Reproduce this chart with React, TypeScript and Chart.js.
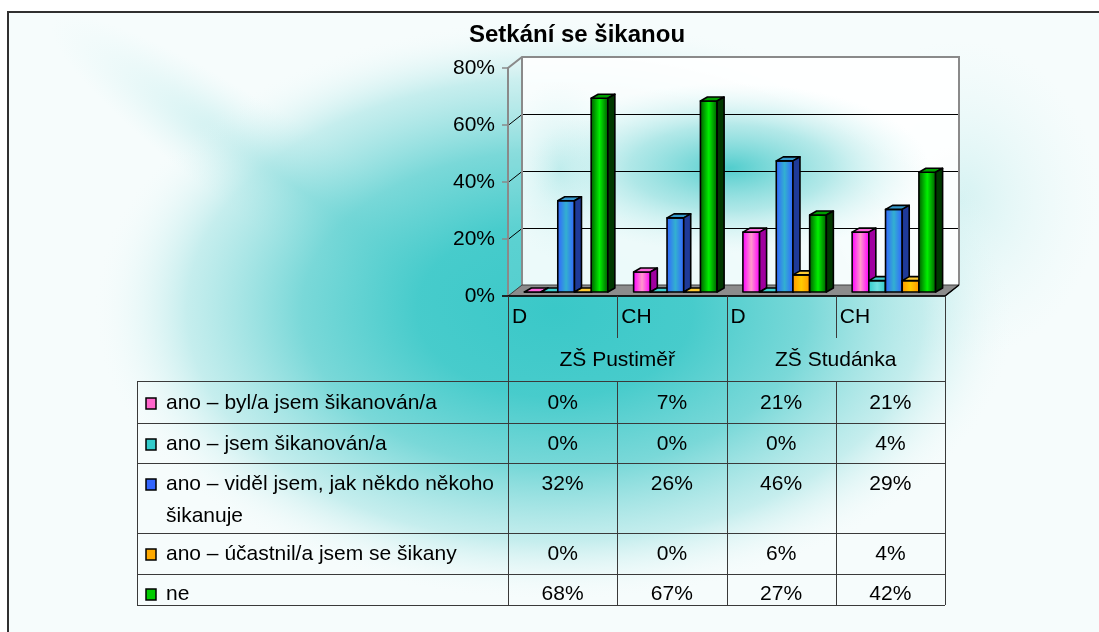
import React, { useEffect, useRef } from "react";
import { Chart, registerables } from "chart.js";

Chart.register(...registerables);

// ---------- data ----------
const chartTitle = "Setkání se šikanou";
const schools = ["ZŠ Pustiměř", "ZŠ Studánka"];
const genders = ["D", "CH", "D", "CH"];
const categories = ["ZŠ Pustiměř D", "ZŠ Pustiměř CH", "ZŠ Studánka D", "ZŠ Studánka CH"];
const seriesNames = [
  "ano – byl/a jsem šikanován/a",
  "ano – jsem šikanován/a",
  "ano – viděl jsem, jak někdo někoho šikanuje",
  "ano – účastnil/a jsem se šikany",
  "ne",
];
const bulliedBefore = [0, 7, 21, 21];
const bulliedNow = [0, 0, 0, 4];
const witnessed = [32, 26, 46, 29];
const participated = [0, 0, 6, 4];
const never = [68, 67, 27, 42];
const seriesValues = [bulliedBefore, bulliedNow, witnessed, participated, never];
const yTicks = [0, 20, 40, 60, 80];

// ---------- styles ----------
const FONT = '"Liberation Sans", Arial, sans-serif';
const seriesStyles = [
  { edge: "#FF00FF", center: "#FF99CC", top: "#FF66DD", side: "#A000A0", key: "#FF66CC" },
  { edge: "#33CCCC", center: "#70E0E0", top: "#40D0D0", side: "#1F8080", key: "#33CCCC" },
  { edge: "#3366FF", center: "#33B0D0", top: "#3399CC", side: "#1F3A99", key: "#3366FF" },
  { edge: "#FF9900", center: "#FFCC00", top: "#FFCC33", side: "#A06000", key: "#FFAA00" },
  { edge: "#006000", center: "#00F000", top: "#00A000", side: "#003800", key: "#00CC00" },
];
const WALL_DX = 14;
const WALL_DY = 11;
const BAR_SHIFT_X = 3.5;
const BAR_SHIFT_Y = 4;
const BAR_DX = 7;
const BAR_DY = 4;
const TABLE_LEFT = 137;
const HEADER_HEIGHTS = [42, 43];
const ROW_HEIGHTS = [42, 40, 70, 41, 31];
const LINE_GAP = 32;

function ellipseGlow(ctx: CanvasRenderingContext2D, cx: number, cy: number, rx: number, ry: number, stops: [number, string][], rot = 0) {
  ctx.save();
  ctx.translate(cx, cy);
  ctx.rotate(rot);
  ctx.scale(1, ry / rx);
  const g = ctx.createRadialGradient(0, 0, 0, 0, 0, rx);
  stops.forEach(([o, c]) => g.addColorStop(o, c));
  ctx.fillStyle = g;
  ctx.fillRect(-rx, -rx, 2 * rx, 2 * rx);
  ctx.restore();
}

function wrapText(ctx: CanvasRenderingContext2D, text: string, maxW: number) {
  const words = text.split(" ");
  const lines: string[] = [];
  let cur = "";
  words.forEach((w) => {
    const t = cur ? cur + " " + w : w;
    if (ctx.measureText(t).width > maxW && cur) {
      lines.push(cur);
      cur = w;
    } else cur = t;
  });
  if (cur) lines.push(cur);
  return lines;
}

const scenePlugin = {
  id: "scene3d",
  beforeDraw(chart: any) {
    const ctx: CanvasRenderingContext2D = chart.ctx;
    const W = chart.width;
    const H = chart.height;
    const a = chart.chartArea;
    const y = chart.scales.y;
    const L = a.left, R = a.right, T = a.top, B = a.bottom;

    // page background
    ctx.save();
    ctx.fillStyle = "#ffffff";
    ctx.fillRect(0, 0, W, H);
    ctx.beginPath();
    ctx.rect(8, 12, W - 8, H - 12);
    ctx.clip();
    ctx.fillStyle = "#f6fcfc";
    ctx.fillRect(8, 12, W, H);
    ellipseGlow(ctx, 300, 190, 300, 55, [
      [0, "rgba(110,212,212,0.5)"],
      [1, "rgba(200,240,240,0)"],
    ], 0.6);
    ellipseGlow(ctx, 960, 200, 140, 160, [
      [0, "rgba(180,232,232,0.5)"],
      [1, "rgba(220,245,245,0)"],
    ]);
    ellipseGlow(ctx, 555, 310, 460, 290, [
      [0, "rgba(58,200,200,1)"],
      [0.3, "rgba(62,201,201,0.95)"],
      [0.55, "rgba(100,210,210,0.85)"],
      [0.8, "rgba(165,228,228,0.6)"],
      [1, "rgba(240,250,250,0)"],
    ]);
    ctx.restore();

    // frame
    ctx.save();
    ctx.strokeStyle = "#303030";
    ctx.lineWidth = 2;
    ctx.beginPath();
    ctx.moveTo(8, H);
    ctx.lineTo(8, 12);
    ctx.lineTo(W, 12);
    ctx.stroke();
    ctx.restore();

    // title
    ctx.save();
    ctx.fillStyle = "#000";
    ctx.font = `bold 24px ${FONT}`;
    ctx.textAlign = "center";
    ctx.textBaseline = "alphabetic";
    ctx.fillText(chartTitle, 577, 42);
    ctx.restore();

    // back wall
    ctx.save();
    ctx.fillStyle = "rgba(255,255,255,0.9)";
    ctx.fillRect(L + WALL_DX, T - WALL_DY, R - L, B - T);
    ctx.beginPath();
    ctx.rect(L + WALL_DX, T - WALL_DY, R - L, B - T);
    ctx.clip();
    ellipseGlow(ctx, 730, 168, 200, 85, [
      [0, "rgba(64,200,200,0.9)"],
      [0.5, "rgba(110,212,212,0.5)"],
      [1, "rgba(200,240,240,0)"],
    ]);
    ellipseGlow(ctx, 560, 170, 60, 90, [
      [0, "rgba(120,215,215,0.35)"],
      [1, "rgba(200,240,240,0)"],
    ]);
    ctx.restore();

    // side wall
    ctx.save();
    ctx.beginPath();
    ctx.moveTo(L, T);
    ctx.lineTo(L + WALL_DX, T - WALL_DY);
    ctx.lineTo(L + WALL_DX, B - WALL_DY);
    ctx.lineTo(L, B);
    ctx.closePath();
    ctx.fillStyle = "rgba(255,255,255,0.12)";
    ctx.fill();

    // grid lines
    ctx.strokeStyle = "#000";
    ctx.lineWidth = 1;
    yTicks.forEach((v) => {
      if (v <= y.min || v >= y.max) return;
      const yy = Math.round(y.getPixelForValue(v)) + 0.5;
      ctx.beginPath();
      ctx.moveTo(L, yy);
      ctx.lineTo(L + WALL_DX, yy - WALL_DY);
      ctx.lineTo(R + WALL_DX, yy - WALL_DY);
      ctx.stroke();
    });

    // wall outlines
    ctx.strokeStyle = "#8a8a8a";
    ctx.lineWidth = 2;
    ctx.beginPath();
    ctx.moveTo(L, B);
    ctx.lineTo(L, T);
    ctx.lineTo(L + WALL_DX, T - WALL_DY);
    ctx.lineTo(R + WALL_DX, T - WALL_DY);
    ctx.lineTo(R + WALL_DX, B - WALL_DY);
    ctx.stroke();
    ctx.beginPath();
    ctx.moveTo(L + WALL_DX, T - WALL_DY);
    ctx.lineTo(L + WALL_DX, B - WALL_DY);
    ctx.stroke();

    // tick marks
    ctx.lineWidth = 1.5;
    yTicks.forEach((v) => {
      const yy = y.getPixelForValue(v);
      ctx.beginPath();
      ctx.moveTo(L - 6, yy);
      ctx.lineTo(L, yy);
      ctx.stroke();
    });

    // floor
    ctx.beginPath();
    ctx.moveTo(L, B);
    ctx.lineTo(L + WALL_DX, B - WALL_DY);
    ctx.lineTo(R + WALL_DX, B - WALL_DY);
    ctx.lineTo(R, B);
    ctx.closePath();
    ctx.fillStyle = "#8c8c8c";
    ctx.fill();
    ctx.strokeStyle = "#404040";
    ctx.lineWidth = 1;
    ctx.stroke();
    ctx.restore();
  },
  afterDatasetsDraw(chart: any) {
    const ctx: CanvasRenderingContext2D = chart.ctx;
    ctx.save();
    ctx.lineWidth = 1.6;
    ctx.strokeStyle = "#000";
    ctx.lineJoin = "round";
    chart.data.datasets.forEach((_ds: any, di: number) => {
      const meta = chart.getDatasetMeta(di);
      const st = seriesStyles[di];
      meta.data.forEach((el: any) => {
        const p = el.getProps(["x", "y", "base", "width"], true);
        const x0 = p.x - p.width / 2 + BAR_SHIFT_X;
        const x1 = p.x + p.width / 2 + BAR_SHIFT_X;
        const yt = p.y - BAR_SHIFT_Y;
        const yb = p.base - BAR_SHIFT_Y;
        // front
        const g = ctx.createLinearGradient(x0, 0, x1, 0);
        g.addColorStop(0, st.edge);
        g.addColorStop(0.5, st.center);
        g.addColorStop(1, st.edge);
        ctx.fillStyle = g;
        ctx.beginPath();
        ctx.rect(x0, yt, x1 - x0, yb - yt);
        ctx.fill();
        ctx.stroke();
        // top
        ctx.beginPath();
        ctx.moveTo(x0, yt);
        ctx.lineTo(x0 + BAR_DX, yt - BAR_DY);
        ctx.lineTo(x1 + BAR_DX, yt - BAR_DY);
        ctx.lineTo(x1, yt);
        ctx.closePath();
        ctx.fillStyle = st.top;
        ctx.fill();
        ctx.stroke();
        // side
        ctx.beginPath();
        ctx.moveTo(x1, yt);
        ctx.lineTo(x1 + BAR_DX, yt - BAR_DY);
        ctx.lineTo(x1 + BAR_DX, yb - BAR_DY);
        ctx.lineTo(x1, yb);
        ctx.closePath();
        ctx.fillStyle = st.side;
        ctx.fill();
        ctx.stroke();
      });
    });
    ctx.restore();
  },
  afterDraw(chart: any) {
    const ctx: CanvasRenderingContext2D = chart.ctx;
    const a = chart.chartArea;
    const x = chart.scales.x;
    const L = a.left, R = a.right, B = a.bottom;
    const n = categories.length;
    const cw = (R - L) / n;
    const colLeft = (i: number) => x.getPixelForValue(i) - cw / 2;
    const headTop = B;
    const head2 = B + HEADER_HEIGHTS[0];
    const rowsTop = head2 + HEADER_HEIGHTS[1];
    const rowTops: number[] = [];
    let acc = rowsTop;
    ROW_HEIGHTS.forEach((h) => {
      rowTops.push(acc);
      acc += h;
    });
    const tableBottom = acc;
    const px = (v: number) => Math.round(v) + 0.5;

    ctx.save();
    // front floor line
    ctx.strokeStyle = "#000";
    ctx.lineWidth = 1.5;
    ctx.beginPath();
    ctx.moveTo(L - 6, B);
    ctx.lineTo(R, B);
    ctx.lineTo(R + WALL_DX, B - WALL_DY);
    ctx.stroke();

    // table lines
    ctx.strokeStyle = "#3a3a3a";
    ctx.lineWidth = 1;
    ctx.beginPath();
    [rowsTop, ...rowTops.slice(1), tableBottom].forEach((yy) => {
      ctx.moveTo(TABLE_LEFT, px(yy));
      ctx.lineTo(R, px(yy));
    });
    ctx.moveTo(px(TABLE_LEFT), rowsTop);
    ctx.lineTo(px(TABLE_LEFT), tableBottom);
    for (let i = 0; i <= n; i++) {
      const xx = px(i === n ? R : colLeft(i));
      if (i % 2 === 0) {
        ctx.moveTo(xx, headTop);
        ctx.lineTo(xx, tableBottom);
      } else {
        ctx.moveTo(xx, headTop);
        ctx.lineTo(xx, head2);
        ctx.moveTo(xx, rowsTop);
        ctx.lineTo(xx, tableBottom);
      }
    }
    ctx.stroke();

    // header text
    ctx.fillStyle = "#000";
    ctx.font = `21px ${FONT}`;
    ctx.textBaseline = "alphabetic";
    ctx.textAlign = "left";
    genders.forEach((g, i) => ctx.fillText(g, colLeft(i) + 4, headTop + 27));
    ctx.textAlign = "center";
    schools.forEach((s, si) => {
      const cx = (colLeft(si * 2) + (si * 2 + 2 >= n ? R : colLeft(si * 2 + 2))) / 2;
      ctx.fillText(s, cx, head2 + 28);
    });

    // rows
    seriesNames.forEach((name, ri) => {
      const top = rowTops[ri];
      const base = top + (ri === 0 ? 28 : ri === ROW_HEIGHTS.length - 1 ? 26 : 27);
      const st = seriesStyles[ri];
      ctx.fillStyle = st.key;
      ctx.fillRect(146, base - 11, 10, 11);
      ctx.strokeStyle = "#000";
      ctx.lineWidth = 1.5;
      ctx.strokeRect(146, base - 11, 10, 11);
      ctx.fillStyle = "#000";
      ctx.textAlign = "left";
      const lines = wrapText(ctx, name, L - 166 - 4);
      lines.forEach((ln, li) => ctx.fillText(ln, 166, base + li * LINE_GAP));
      ctx.textAlign = "center";
      seriesValues[ri].forEach((v, ci) => {
        ctx.fillText(v + "%", x.getPixelForValue(ci), base);
      });
    });
    ctx.restore();
  },
};

export default function App() {
  const ref = useRef<HTMLCanvasElement>(null);
  useEffect(() => {
    const canvas = ref.current;
    if (!canvas) return;
    const chart = new Chart(canvas, {
      type: "bar",
      data: {
        labels: categories,
        datasets: seriesValues.map((d, i) => ({
          label: seriesNames[i],
          data: d,
          backgroundColor: "rgba(0,0,0,0)",
          borderWidth: 0,
          categoryPercentage: 0.764,
          barPercentage: 1,
        })),
      },
      options: {
        responsive: false,
        animation: false,
        devicePixelRatio: 1,
        layout: { padding: { left: 438, right: 154, top: 68, bottom: 336 } },
        plugins: {
          legend: { display: false },
          title: { display: false },
          tooltip: { enabled: false },
        },
        scales: {
          x: { display: false, offset: true },
          y: {
            min: 0,
            max: 80,
            afterFit: (s: any) => {
              s.width = 70;
            },
            ticks: {
              stepSize: 20,
              padding: 13,
              color: "#000",
              font: { family: FONT, size: 21 },
              callback: (v: any) => v + "%",
            },
            grid: { display: false, drawTicks: false },
            border: { display: false },
          },
        },
      },
      plugins: [scenePlugin],
    } as any);
    return () => chart.destroy();
  }, []);
  return (
    <div style={{ position: "fixed", left: 0, top: 0, width: 1099, height: 632 }}>
      <canvas ref={ref} width={1099} height={632} style={{ display: "block", width: 1099, height: 632 }} />
    </div>
  );
}
